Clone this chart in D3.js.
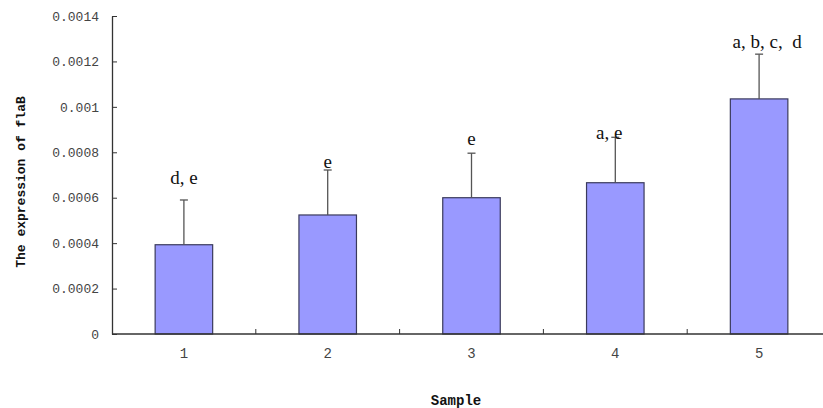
<!DOCTYPE html>
<html>
<head>
<meta charset="utf-8">
<script src="https://cdn.jsdelivr.net/npm/d3@7"></script>
<style>
body { margin: 0; background: #fff; }
</style>
</head>
<body>
<svg id="chart" width="823" height="408"></svg>
<script>
var samples = ["1", "2", "3", "4", "5"];
var expression = [0.000393, 0.000524, 0.0006, 0.000666, 0.001035];
var errors = [0.000197, 0.000198, 0.000196, 0.0002, 0.000197];
var letters = ["d, e", "e", "e", "a, e", "a, b, c,  d"];
// where the letter labels sit, in data units
var letterY = [0.00066, 0.00073, 0.00083, 0.00086, 0.00126];
var yTicks = [0, 0.0002, 0.0004, 0.0006, 0.0008, 0.001, 0.0012, 0.0014];
var yTickLabels = ["0", "0.0002", "0.0004", "0.0006", "0.0008", "0.001", "0.0012", "0.0014"];

var svg = d3.select("#chart");
var plotLeft = 112, plotRight = 831, plotTop = 16, plotBottom = 334;

var x = d3.scaleBand()
	.domain(samples)
	.range([plotLeft, plotRight])
	;

var y = d3.scaleLinear()
	.domain([0, 0.0014])
	.range([plotBottom, plotTop])
	;

var mono = "'Liberation Mono', 'DejaVu Sans Mono', monospace";

// y axis, ticks point inward
var yAxis = svg.append("g")
	.attr("transform", "translate(" + plotLeft + ",0)")
	.call(d3.axisLeft(y).tickValues(yTicks).tickSizeInner(-5).tickSizeOuter(0)
		.tickFormat(function(d, i) { return yTickLabels[i]; }));
yAxis.select(".domain").attr("stroke", "#333").attr("stroke-width", 1.3);
yAxis.selectAll(".tick line").attr("stroke", "#333");
yAxis.selectAll(".tick text")
	.attr("x", -13)
	.style("font-family", mono)
	.style("font-size", "13px")
	.style("fill", "#444")
	;

// bars
var barW = x.bandwidth() * 0.4;
svg.selectAll("rect.bar").data(expression).enter()
	.append("rect")
	.attr("class", "bar")
	.attr("x", function(d, i) { return x(samples[i]) + (x.bandwidth() - barW) / 2; })
	.attr("y", function(d) { return y(d); })
	.attr("width", barW)
	.attr("height", function(d) { return y(0) - y(d); })
	.attr("fill", "#9999ff")
	.attr("stroke", "#3a3a5c")
	.attr("stroke-width", 1.2)
	;

// error bars
var err = svg.selectAll("g.err").data(expression).enter()
	.append("g")
	.attr("class", "err")
	;
err.append("line")
	.attr("x1", function(d, i) { return x(samples[i]) + x.bandwidth() / 2; })
	.attr("x2", function(d, i) { return x(samples[i]) + x.bandwidth() / 2; })
	.attr("y1", function(d) { return y(d); })
	.attr("y2", function(d, i) { return y(d + errors[i]); })
	.attr("stroke", "#555")
	.attr("stroke-width", 1.3)
	;
err.append("line")
	.attr("x1", function(d, i) { return x(samples[i]) + x.bandwidth() / 2 - 4; })
	.attr("x2", function(d, i) { return x(samples[i]) + x.bandwidth() / 2 + 4; })
	.attr("y1", function(d, i) { return y(d + errors[i]); })
	.attr("y2", function(d, i) { return y(d + errors[i]); })
	.attr("stroke", "#555")
	.attr("stroke-width", 1.3)
	;

// x axis, ticks between categories pointing up
svg.append("line")
	.attr("x1", plotLeft).attr("x2", 823)
	.attr("y1", plotBottom).attr("y2", plotBottom)
	.attr("stroke", "#333")
	.attr("stroke-width", 1.3)
	;
svg.selectAll("line.xtick").data(samples.slice(1)).enter()
	.append("line")
	.attr("class", "xtick")
	.attr("x1", function(d) { return x(d); })
	.attr("x2", function(d) { return x(d); })
	.attr("y1", plotBottom).attr("y2", plotBottom - 5)
	.attr("stroke", "#333")
	;
svg.selectAll("text.xlab").data(samples).enter()
	.append("text")
	.attr("class", "xlab")
	.attr("x", function(d) { return x(d) + x.bandwidth() / 2; })
	.attr("y", 358)
	.attr("text-anchor", "middle")
	.style("font-family", mono)
	.style("font-size", "14px")
	.style("fill", "#444")
	.text(function(d) { return d; })
	;

// significance letters
var letterDx = [0, 0, 0, -6, 8];
svg.selectAll("text.sig").data(letters).enter()
	.append("text")
	.attr("class", "sig")
	.attr("x", function(d, i) { return x(samples[i]) + x.bandwidth() / 2 + letterDx[i]; })
	.attr("y", function(d, i) { return y(letterY[i]); })
	.attr("text-anchor", "middle")
	.style("font-family", "'Liberation Serif', 'Times New Roman', serif")
	.style("font-size", "19px")
	.style("white-space", "pre")
	.style("fill", "#111")
	.text(function(d) { return d; })
	;

// axis titles
svg.append("text")
	.attr("transform", "translate(25,182) rotate(-90)")
	.attr("text-anchor", "middle")
	.style("font-family", mono)
	.style("font-size", "13px")
	.style("font-weight", "bold")
	.style("fill", "#111")
	.text("The expression of flaB")
	;
svg.append("text")
	.attr("x", 456)
	.attr("y", 405)
	.attr("text-anchor", "middle")
	.style("font-family", mono)
	.style("font-size", "14px")
	.style("font-weight", "bold")
	.style("fill", "#111")
	.text("Sample")
	;
</script>
</body>
</html>
